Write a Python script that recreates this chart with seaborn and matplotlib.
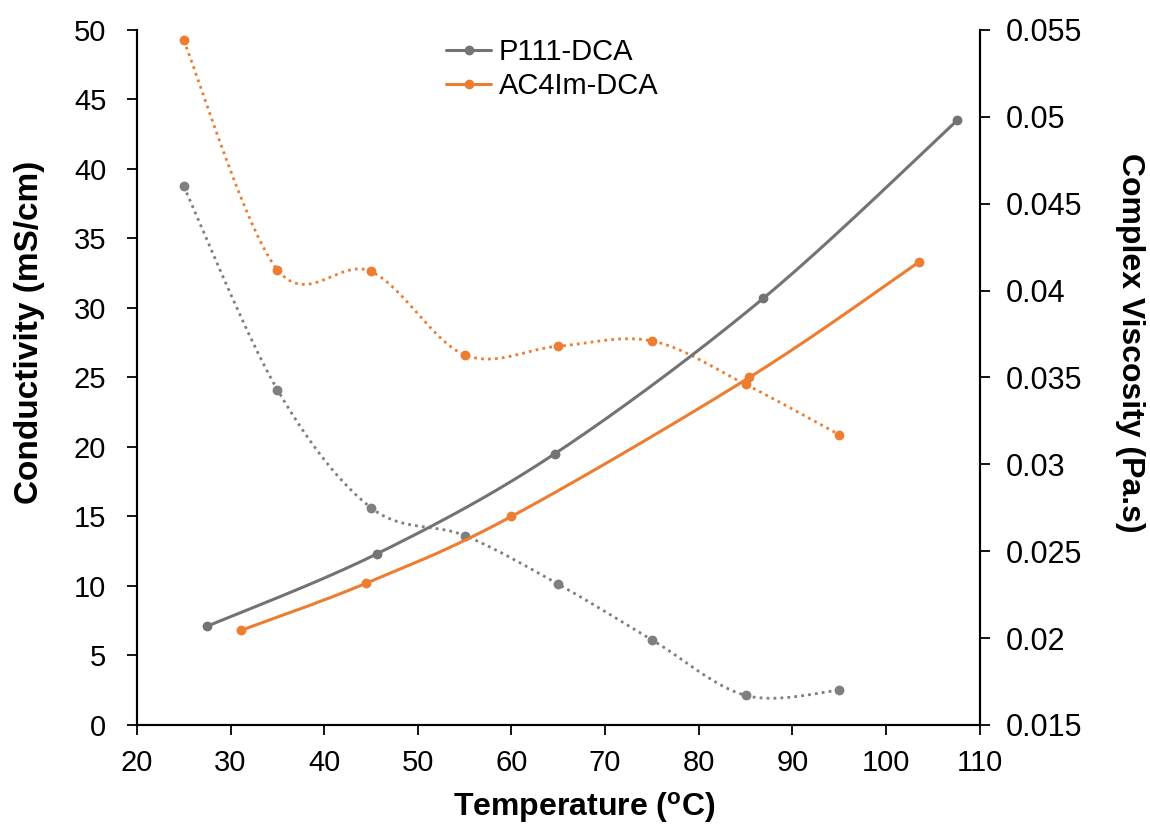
import numpy as np
import pandas as pd
import matplotlib
matplotlib.use("Agg")
import matplotlib.pyplot as plt
import seaborn as sns
from matplotlib.lines import Line2D

sns.set_theme(style="white")
plt.rcParams['font.family'] = ['Liberation Sans', 'DejaVu Sans']
plt.rcParams['mathtext.fontset'] = 'custom'
plt.rcParams['mathtext.rm'] = 'Liberation Sans'
plt.rcParams['mathtext.bf'] = 'Liberation Sans:bold'
plt.rcParams['text.color'] = 'black'
plt.rcParams['axes.labelcolor'] = 'black'

# Conductivity (mS/cm) vs temperature
p111_cond_T = [27.5, 45.6, 64.6, 86.9, 107.6]
p111_cond = [7.1, 12.3, 19.5, 30.7, 43.5]
ac4_cond_T = [31.1, 44.5, 60.0, 85.4, 103.5]
ac4_cond = [6.8, 10.2, 15.0, 25.0, 33.3]

# Complex viscosity (Pa.s) vs temperature
visc_T = [25, 35, 45, 55, 65, 75, 85, 95]
p111_visc = [0.0460, 0.0343, 0.0275, 0.0259, 0.0231, 0.0199, 0.0167, 0.0170]
ac4_visc = [0.0544, 0.0412, 0.0411, 0.0363, 0.0368, 0.0371, 0.0346, 0.0317]

x_ticks = [20, 30, 40, 50, 60, 70, 80, 90, 100, 110]
left_ticks = [0, 5, 10, 15, 20, 25, 30, 35, 40, 45, 50]
right_ticks = [0.015, 0.02, 0.025, 0.03, 0.035, 0.04, 0.045, 0.05, 0.055]
right_labels = ["0.015", "0.02", "0.025", "0.03", "0.035", "0.04", "0.045", "0.05", "0.055"]

GRAY = "#7f7f7f"
GRAY_DARK = "#737373"
ORANGE = "#ed7d31"


def smooth(xs, ys, n=40):
    """Catmull-Rom curve through the points (Bezier-smoothed line)."""
    xs = np.asarray(xs, float)
    ys = np.asarray(ys, float)
    px = np.concatenate([[xs[0]], xs, [xs[-1]]])
    py = np.concatenate([[ys[0]], ys, [ys[-1]]])
    outx, outy = [], []
    for i in range(1, len(px) - 2):
        t = np.linspace(0, 1, n, endpoint=(i == len(px) - 3))
        p0x, p1x, p2x, p3x = px[i - 1:i + 3]
        p0y, p1y, p2y, p3y = py[i - 1:i + 3]
        c1x = p1x + (p2x - p0x) / 6
        c1y = p1y + (p2y - p0y) / 6
        c2x = p2x - (p3x - p1x) / 6
        c2y = p2y - (p3y - p1y) / 6
        b = [(1 - t) ** 3, 3 * (1 - t) ** 2 * t, 3 * (1 - t) * t ** 2, t ** 3]
        outx.append(b[0] * p1x + b[1] * c1x + b[2] * c2x + b[3] * p2x)
        outy.append(b[0] * p1y + b[1] * c1y + b[2] * c2y + b[3] * p2y)
    return pd.DataFrame({"x": np.concatenate(outx), "y": np.concatenate(outy)})


fig = plt.figure(figsize=(11.5, 8.31), dpi=100)
ax = fig.add_axes([0.119, 0.1276, 0.733, 0.8364])
ax2 = ax.twinx()

# Viscosity curves (dotted, right axis)
for T, v, c in [(visc_T, p111_visc, GRAY), (visc_T, ac4_visc, ORANGE)]:
    d = smooth(T, v)
    sns.lineplot(data=d, x="x", y="y", ax=ax2, color=c, linestyle=(0, (1, 1.5)),
                 linewidth=2, sort=False, estimator=None)
    sns.scatterplot(x=T, y=v, ax=ax2, color=c, s=50, edgecolor=c, linewidth=0, zorder=3)

# Conductivity curves (solid, left axis)
for T, v, c in [(p111_cond_T, p111_cond, GRAY_DARK), (ac4_cond_T, ac4_cond, ORANGE)]:
    d = smooth(T, v)
    sns.lineplot(data=d, x="x", y="y", ax=ax, color=c, linewidth=2.2,
                 sort=False, estimator=None)
    sns.scatterplot(x=T, y=v, ax=ax, color=c, s=50, edgecolor=c, linewidth=0, zorder=3)

ax.set_zorder(ax2.get_zorder() + 1)
ax.patch.set_visible(False)

ax.set_xlim(20, 110)
ax.set_ylim(0, 50)
ax2.set_ylim(0.015, 0.055)
ax.set_xticks(x_ticks)
ax.set_yticks(left_ticks)
ax2.set_yticks(right_ticks)
ax2.set_yticklabels(right_labels)

for a in (ax, ax2):
    a.grid(False)
    a.spines['top'].set_visible(False)
    for s in ('left', 'right', 'bottom'):
        a.spines[s].set_color("black")
        a.spines[s].set_linewidth(1.5)
    a.tick_params(axis='both', which='major', direction='out', length=7, width=1.3,
                  color="black", labelsize=21, labelcolor="black")
ax.tick_params(axis='y', left=True, pad=15)
ax.tick_params(axis='x', bottom=True, pad=10)
ax2.tick_params(axis='y', right=True, pad=12, labelsize=22)

ax.set_xlabel(r"Temperature ($\mathbf{^{o}}$C)", fontsize=23, fontweight="bold")
ax.set_ylabel("Conductivity (mS/cm)", fontsize=24, fontweight="bold")
ax2.set_ylabel("Complex Viscosity (Pa.s)", fontsize=23, fontweight="bold", rotation=270)
ax.xaxis.set_label_coords(0.531, -0.119)
ax.yaxis.set_label_coords(-0.127, 0.565)
ax2.yaxis.set_label_coords(1.178, 0.55)
ax.xaxis.label.set_verticalalignment('center')
ax.yaxis.label.set_verticalalignment('center')
ax2.yaxis.label.set_verticalalignment('center')

handles = [
    Line2D([], [], color=GRAY_DARK, linewidth=2.2, marker="o", markersize=6),
    Line2D([], [], color=ORANGE, linewidth=2.2, marker="o", markersize=6),
]
ax.legend(handles, ["P111-DCA", "AC4Im-DCA"], loc="upper left",
          bbox_to_anchor=(0.367, 0.988), borderaxespad=0, borderpad=0,
          frameon=False, fontsize=21, handlelength=1.55, handletextpad=0.25,
          labelspacing=0.2)

fig.savefig("out.png", dpi=100)
